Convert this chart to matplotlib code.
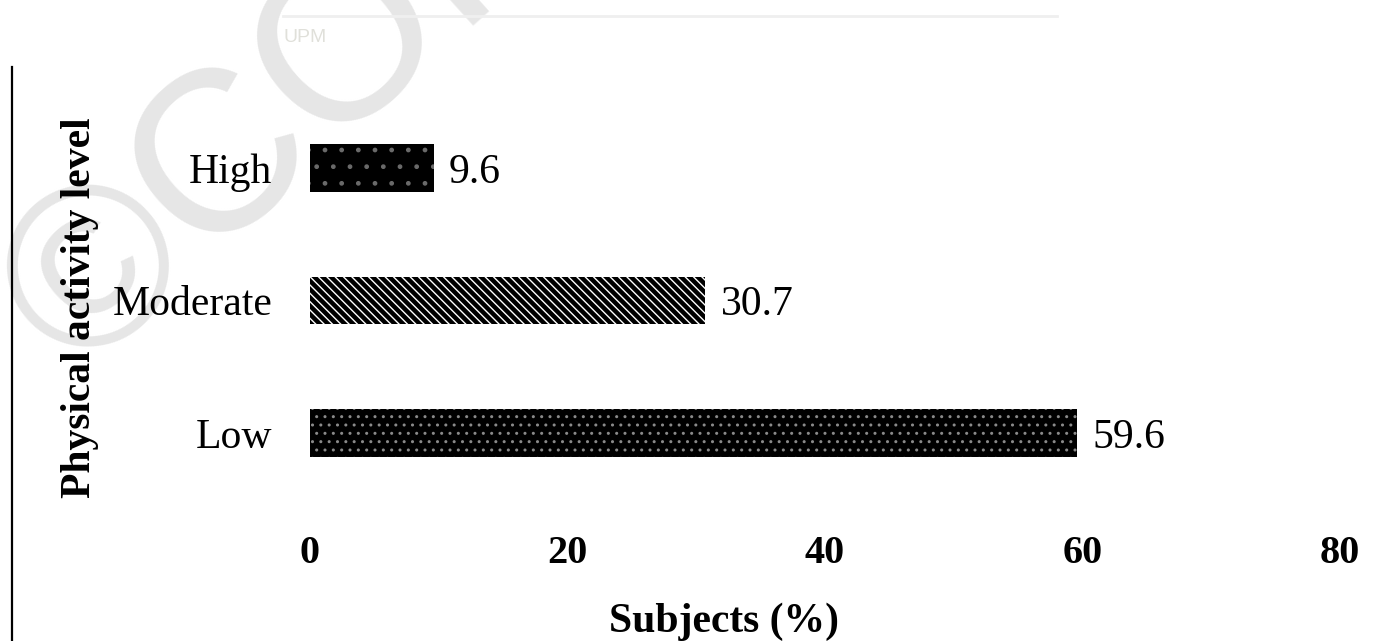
import matplotlib
matplotlib.use("Agg")
import matplotlib.pyplot as plt
from matplotlib.lines import Line2D

# Data
levels = ["Low", "Moderate", "High"]
subjects_pct = [59.6, 30.7, 9.6]
x_ticks = [0, 20, 40, 60, 80]

# Bar fills: (face colour, hatch colour, hatch pattern)
fills = [
    ("black", "#8a8a8a", ".."),
    ("black", "white", "\\\\\\\\"),
    ("black", "#6a6a6a", "."),
]

SERIF = ["Liberation Serif", "DejaVu Serif"]

plt.rcParams["hatch.linewidth"] = 1.0

fig = plt.figure(figsize=(13.82, 6.41), dpi=100)
fig.patch.set_facecolor("white")

# Faint background stamp
fig.text(0.028, 0.475, "\u00a9COPYRIGHT UPM", rotation=42, rotation_mode="anchor",
         fontsize=165, family=["Liberation Sans", "DejaVu Sans"],
         color="#e6e6e6", ha="left", va="center", zorder=-2)
fig.text(0.205, 0.942, "UPM", fontsize=14, color="#e0e0da",
         family=["Liberation Sans"], ha="left", va="center", zorder=-1)
fig.add_artist(Line2D([0.205, 0.765], [0.975, 0.975], color="#efefef", lw=2,
                      zorder=-1))

# Page border on the left
fig.add_artist(Line2D([0.009, 0.009], [0.0, 0.895], color="black", lw=1.6))

ax = fig.add_axes([0.2243, 0.220, 0.7453, 0.624])
ax.set_facecolor("none")

ypos = list(range(len(levels)))
for y, val, (fc, hc, hatch) in zip(ypos, subjects_pct, fills):
    ax.barh(y, val, height=0.36, color=fc, edgecolor=hc, hatch=hatch,
            linewidth=0, zorder=2)
    ax.text(val + 1.2, y, f"{val:.1f}", ha="left", va="center_baseline",
            fontsize=30, family=SERIF)

ax.set_xlim(0, 80)
ax.set_ylim(-0.506, 2.513)
ax.set_xticks(x_ticks)
ax.set_xticklabels([str(t) for t in x_ticks], fontsize=29,
                   fontweight="bold", family=SERIF)
ax.set_yticks(ypos)
ax.set_yticklabels(levels, fontsize=30, family=SERIF)
ax.tick_params(axis="x", length=0, pad=25)
ax.tick_params(axis="y", length=0, pad=27)
for s in ax.spines.values():
    s.set_visible(False)

fig.text(0.524, 0.03, "Subjects (%)", ha="center", va="center",
         fontsize=30, fontweight="bold", family=SERIF)
fig.text(0.058, 0.52, "Physical activity level", rotation=90,
         ha="center", va="center", fontsize=30, fontweight="bold",
         family=SERIF)

fig.savefig("out.png", dpi=100)
